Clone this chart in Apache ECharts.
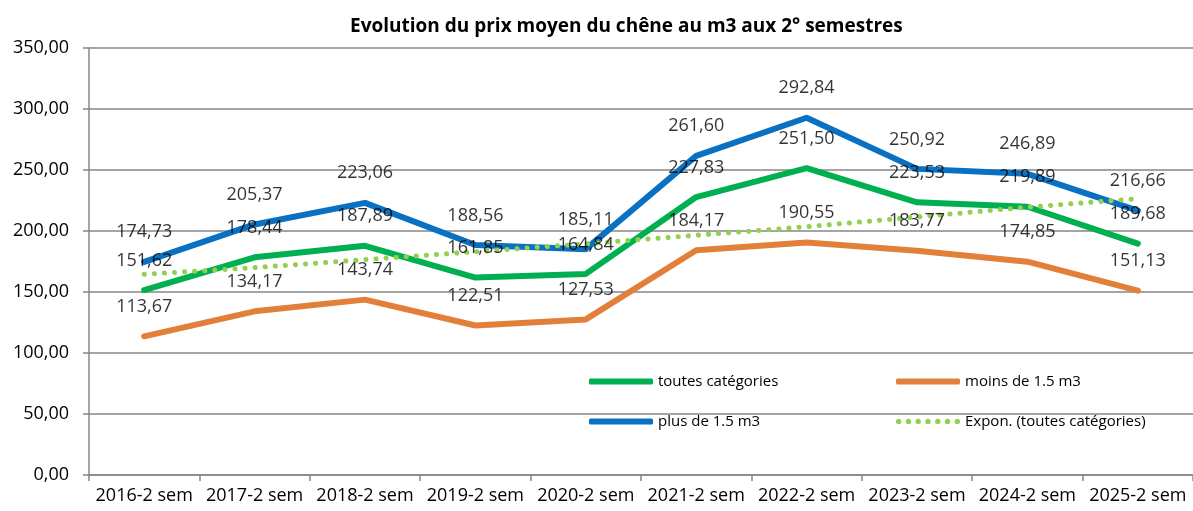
<!DOCTYPE html>
<html>
<head>
<meta charset="utf-8">
<script src="https://cdn.jsdelivr.net/npm/echarts@6/dist/echarts.min.js"></script>
<style>
  html, body { margin: 0; padding: 0; background: #fff; }
  #chart { width: 1193px; height: 511px; }
</style>
</head>
<body>
<div id="chart"></div>
<script>
var categories = ['2016-2 sem', '2017-2 sem', '2018-2 sem', '2019-2 sem', '2020-2 sem',
                  '2021-2 sem', '2022-2 sem', '2023-2 sem', '2024-2 sem', '2025-2 sem'];
var toutes = [151.62, 178.44, 187.89, 161.85, 164.84, 227.83, 251.50, 223.53, 219.89, 189.68];
var moins = [113.67, 134.17, 143.74, 122.51, 127.53, 184.17, 190.55, 183.77, 174.85, 151.13];
var plus = [174.73, 205.37, 223.06, 188.56, 185.11, 261.60, 292.84, 250.92, 246.89, 216.66];
// tendance exponentielle
var expon = [164.5, 170, 176.5, 183, 189.5, 196.5, 203.5, 211.5, 219.5, 226.5];

var FONT = '"Open Sans", sans-serif';

// icone pointillee pour la legende de la tendance
var dotsIcon = 'path://' + [2.5, 11.7, 20.8, 30, 39.2, 48.3, 57.5].map(function (cx) {
    return 'M' + (cx - 2.5) + ',2.5a2.5,2.5 0 1,0 5,0a2.5,2.5 0 1,0 -5,0Z';
}).join('');

function fmt(v) {
    return v.toFixed(2).replace('.', ',');
}

function lineSeries(name, data, color, z) {
    return {
        name: name,
        type: 'line',
        data: data,
        color: color,
        symbol: 'none',
        lineStyle: { color: color, width: 6, cap: 'round', join: 'round' },
        z: z
    };
}

// etiquettes de valeurs, dessinees au-dessus de toutes les courbes
function labelSeries(data) {
    return {
        type: 'scatter',
        data: data,
        symbolSize: 1,
        itemStyle: { color: 'rgba(0,0,0,0)' },
        silent: true,
        label: {
            show: true,
            position: 'top',
            distance: 20,
            color: '#000',
            fontFamily: FONT,
            fontSize: 18,
            formatter: function (p) { return fmt(p.value); }
        },
        z: 10
    };
}

var myChart = echarts.init(document.getElementById('chart'));

var legendText = { fontFamily: FONT, fontSize: 15, color: '#000' };

var option = {
    animation: false,
    title: {
        text: 'Evolution du prix moyen du chêne au m3 aux 2° semestres',
        left: 345,
        top: 12,
        textStyle: { fontFamily: FONT, fontSize: 19, fontWeight: 'bold', color: '#000' }
    },
    legend: [{
        orient: 'vertical',
        left: 584,
        top: 369,
        itemGap: 25,
        itemWidth: 64,
        itemHeight: 6,
        textStyle: legendText,
        data: [
            { name: 'toutes catégories', icon: 'roundRect', itemStyle: { color: '#00B050', opacity: 1 } },
            { name: 'plus de 1.5 m3', icon: 'roundRect', itemStyle: { color: '#0A70C2', opacity: 1 } }
        ]
    }, {
        orient: 'vertical',
        left: 891,
        top: 369,
        itemGap: 25,
        itemWidth: 64,
        itemHeight: 6,
        textStyle: legendText,
        data: [
            { name: 'moins de 1.5 m3', icon: 'roundRect', itemStyle: { color: '#E2803B', opacity: 1 } },
            { name: 'Expon. (toutes catégories)', icon: dotsIcon, itemStyle: { color: '#92D050', opacity: 1 } }
        ]
    }],
    grid: { left: 89, right: 0, top: 48, bottom: 36, containLabel: false },
    xAxis: {
        type: 'category',
        data: categories,
        boundaryGap: true,
        axisLine: { lineStyle: { color: '#868686', width: 1.5 } },
        axisTick: { show: true, length: 6, lineStyle: { color: '#868686', width: 1.5 } },
        axisLabel: { color: '#000', fontFamily: FONT, fontSize: 18, margin: 12, interval: 0 }
    },
    yAxis: {
        type: 'value',
        min: 0,
        max: 350,
        interval: 50,
        axisLine: { show: true, lineStyle: { color: '#868686', width: 1.5 } },
        axisTick: { show: true, length: 6, lineStyle: { color: '#868686', width: 1.5 } },
        splitLine: { lineStyle: { color: '#868686', width: 1.5 } },
        axisLabel: {
            color: '#000', fontFamily: FONT, fontSize: 18, margin: 20,
            formatter: function (v) { return fmt(v); }
        }
    },
    series: [
        lineSeries('toutes catégories', toutes, '#00B050', 3),
        lineSeries('moins de 1.5 m3', moins, '#E2803B', 2),
        lineSeries('plus de 1.5 m3', plus, '#0A70C2', 4),
        {
            name: 'Expon. (toutes catégories)',
            type: 'line',
            data: expon,
            symbol: 'none',
            itemStyle: { color: '#92D050' },
            lineStyle: { color: '#92D050', width: 5, type: [0.1, 10], cap: 'round' },
            z: 5
        },
        labelSeries(toutes),
        labelSeries(moins),
        labelSeries(plus)
    ]
};

myChart.setOption(option);
</script>
</body>
</html>
